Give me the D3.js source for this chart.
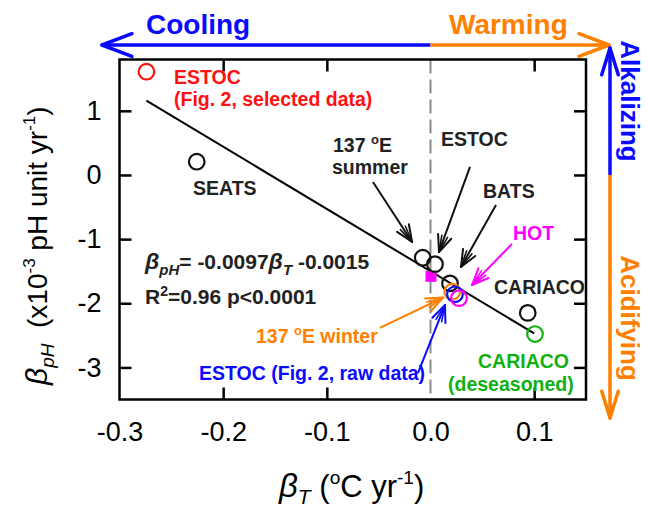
<!DOCTYPE html>
<html><head><meta charset="utf-8">
<script src="https://cdn.jsdelivr.net/npm/d3@7/dist/d3.min.js"></script>
<style>
body{margin:0;background:#fff}
svg{display:block}
text{font-family:"Liberation Sans",Arial,Helvetica,sans-serif}
</style>
</head><body>
<svg id="c" width="648" height="510"></svg>
<script>
// ---------- data ----------
const stations = ["ESTOC (Fig. 2, selected data)","SEATS","137°E summer","ESTOC","BATS","137°E winter","ESTOC (Fig. 2, raw data)","HOT","CARIACO","CARIACO (deseasoned)"];
const betaT  = [-0.274, -0.2255, -0.0075, 0.0043, 0.0188, 0.021, 0.0236, 0.0275, 0.0938, 0.1008];
const betaPH = [ 1.61,   0.207,  -1.29,  -1.39,  -1.69,  -1.82, -1.86,  -1.92,  -2.15,  -2.48];
const pointColors = ["#ff1010","#111111","#111111","#111111","#111111","#ff8000","#0a0aff","#ff00ff","#111111","#10b010"];
const squareT  = [0.0005];
const squarePH = [-1.58];
const regSlope = -9.7, regIntercept = -1.5;
const regExtent = [-0.274, 0.1];
const xTicks = [-0.3, -0.2, -0.1, 0.0, 0.1];
const xTickLabels = ["-0.3","-0.2","-0.1","0.0","0.1"];
const yTicks = [-3, -2, -1, 0, 1];
const yTickLabels = ["-3","-2","-1","0","1"];
const xDomain = [-0.3, 0.15];
const yDomain = [-3.5, 1.8];
// annotation arrows (data units)
const arrowFromT  = [-0.0555, 0.0381, 0.0632, 0.0786, -0.0487, -0.0121];
const arrowFromPH = [-0.109,  0.125, -0.468, -1.076, -2.385, -3.087];
const arrowToT    = [-0.0178, 0.0082, 0.0294, 0.040,  0.0121,  0.014];
const arrowToPH   = [-1.044, -1.20,  -1.434, -1.715, -1.91,  -2.026];
const arrowColors = ["#111111","#111111","#111111","#ff00ff","#ff8000","#0a0aff"];

// ---------- layout ----------
const BLUE = "#0a0aff", ORANGE = "#ff8000";
const svg = d3.select("#c");
const L = 119.5, R = 586, T = 59.5, B = 399.5;
const x = d3.scaleLinear().domain(xDomain).range([L, R]);
const y = d3.scaleLinear().domain(yDomain).range([B, T]);

function arrowHead(g, x1, y1, x2, y2, color, len, ang, w) {
  const a = Math.atan2(y2 - y1, x2 - x1);
  [ang, -ang].forEach(d => {
    g.append("line").attr("x1", x2).attr("y1", y2)
      .attr("x2", x2 - len * Math.cos(a + d)).attr("y2", y2 - len * Math.sin(a + d))
      .attr("stroke", color).attr("stroke-width", w).attr("stroke-linecap", "round");
  });
}

// dashed zero line
svg.append("line").attr("x1", x(0)).attr("x2", x(0)).attr("y1", T).attr("y2", B)
  .attr("stroke", "#8a8a8a").attr("stroke-width", 2).attr("stroke-dasharray", "14,6");

// axes
const tickFmt = (arr, labels) => d => labels[arr.indexOf(d)];
const gx = svg.append("g").attr("transform", `translate(0,${B})`)
  .call(d3.axisBottom(x).tickValues(xTicks).tickFormat(tickFmt(xTicks, xTickLabels)).tickSize(-12).tickSizeOuter(0).tickPadding(22));
const gy = svg.append("g").attr("transform", `translate(${L},0)`)
  .call(d3.axisLeft(y).tickValues(yTicks).tickFormat(tickFmt(yTicks, yTickLabels)).tickSize(-12).tickSizeOuter(0).tickPadding(18));
const gt = svg.append("g").attr("transform", `translate(0,${T})`)
  .call(d3.axisTop(x).tickValues(xTicks).tickFormat("").tickSize(-12).tickSizeOuter(0));
const gr = svg.append("g").attr("transform", `translate(${R},0)`)
  .call(d3.axisRight(y).tickValues(yTicks).tickFormat("").tickSize(-12).tickSizeOuter(0));
[gx, gy, gt, gr].forEach(g => {
  g.select(".domain").remove();
  g.selectAll(".tick line").attr("stroke", "#000").attr("stroke-width", 2.5);
  g.selectAll(".tick text").attr("fill", "#000").style("font-size", "27px").style("font-family", "'Liberation Sans',Arial,sans-serif");
});
[gx, gt].forEach(g => g.selectAll(".tick").filter(d => d === 0 || d === -0.3).select("line").remove());
svg.append("rect").attr("x", L).attr("y", T).attr("width", R - L).attr("height", B - T)
  .attr("fill", "none").attr("stroke", "#000").attr("stroke-width", 2.5);

// regression line
svg.append("line")
  .attr("x1", x(regExtent[0])).attr("y1", y(regSlope * regExtent[0] + regIntercept))
  .attr("x2", x(regExtent[1])).attr("y2", y(regSlope * regExtent[1] + regIntercept))
  .attr("stroke", "#000").attr("stroke-width", 2);

// square marker
svg.selectAll("rect.sq").data(squareT).enter().append("rect").attr("class", "sq")
  .attr("x", (d, i) => x(d) - 5.5).attr("y", (d, i) => y(squarePH[i]) - 5.5)
  .attr("width", 11).attr("height", 11).attr("fill", "#ff00ff");

// points
svg.selectAll("circle.pt").data(betaT).enter().append("circle").attr("class", "pt")
  .attr("cx", d => x(d)).attr("cy", (d, i) => y(betaPH[i])).attr("r", 7.8)
  .attr("fill", "none").attr("stroke", (d, i) => pointColors[i]).attr("stroke-width", 2.2);

// annotation arrows
const ga = svg.append("g");
arrowFromT.forEach((d, i) => {
  const x1 = x(d), y1 = y(arrowFromPH[i]), x2 = x(arrowToT[i]), y2 = y(arrowToPH[i]);
  ga.append("line").attr("x1", x1).attr("y1", y1).attr("x2", x2).attr("y2", y2)
    .attr("stroke", arrowColors[i]).attr("stroke-width", 2);
  arrowHead(ga, x1, y1, x2, y2, arrowColors[i], 18, 0.40, 2);
  arrowHead(ga, x1, y1, x2, y2, arrowColors[i], 17, 0.18, 1.6);
});

// labels
function lbl(txt, px, py, color, size, anchor) {
  return svg.append("text").attr("x", px).attr("y", py).attr("fill", color)
    .attr("font-weight", "bold").attr("text-anchor", anchor || "start").style("font-size", size + "px").text(txt);
}
const AS = 19.5;
lbl("ESTOC", 174, 84, "#ff1010", AS);
lbl("(Fig. 2, selected data)", 174, 106, "#ff1010", AS);
lbl("SEATS", 193, 195, "#222", AS);
const t137 = svg.append("text").attr("x", 333).attr("y", 152).attr("fill", "#222").attr("font-weight", "bold").style("font-size", AS + "px");
t137.append("tspan").text("137 ");
t137.append("tspan").attr("dy", -8).style("font-size", "13px").text("o");
t137.append("tspan").attr("dy", 8).text("E");
lbl("summer", 332, 174, "#222", AS);
lbl("ESTOC", 441, 146, "#222", AS);
lbl("BATS", 483, 198, "#222", AS);
lbl("HOT", 513, 240, "#ff00ff", AS);
lbl("CARIACO", 494, 294, "#222", AS);
lbl("CARIACO", 478, 368, "#10b010", AS);
lbl("(deseasoned)", 448, 391, "#10b010", AS);
const tw = svg.append("text").attr("x", 256).attr("y", 343).attr("fill", ORANGE).attr("font-weight", "bold").style("font-size", AS + "px");
tw.append("tspan").text("137 ");
tw.append("tspan").attr("dy", -8).style("font-size", "13px").text("o");
tw.append("tspan").attr("dy", 8).text("E winter");
lbl("ESTOC (Fig. 2, raw data)", 199, 380, BLUE, AS);

// equation
const ES = 21;
const e1 = svg.append("text").attr("x", 145).attr("y", 269).attr("fill", "#222").attr("font-weight", "bold").style("font-size", ES + "px");
e1.append("tspan").attr("font-style", "italic").style("font-size", "23px").text("β");
e1.append("tspan").attr("font-style", "italic").attr("dy", 6).style("font-size", "15px").text("pH");
e1.append("tspan").attr("dy", -6).text("= -0.0097");
e1.append("tspan").attr("font-style", "italic").style("font-size", "23px").text("β");
e1.append("tspan").attr("font-style", "italic").attr("dy", 6).style("font-size", "15px").text("T");
e1.append("tspan").attr("dy", -6).text(" -0.0015");
const e2 = svg.append("text").attr("x", 145).attr("y", 304).attr("fill", "#222").attr("font-weight", "bold").style("font-size", ES + "px");
e2.append("tspan").text("R");
e2.append("tspan").attr("dy", -8).style("font-size", "14px").text("2");
e2.append("tspan").attr("dy", 8).text("=0.96 p<0.0001");

// axis titles
const TS = 28;
const xt = svg.append("text").attr("x", 279).attr("y", 497).attr("fill", "#000").style("font-size", "31px");
xt.append("tspan").attr("font-style", "italic").style("font-size", "33px").text("β");
xt.append("tspan").attr("font-style", "italic").attr("dy", 7).style("font-size", "21px").text("T");
xt.append("tspan").attr("dy", -7).text("\u00a0(");
xt.append("tspan").attr("dy", -13).style("font-size", "19px").text("o");
xt.append("tspan").attr("dy", 13).text("C yr");
xt.append("tspan").attr("dy", -13).style("font-size", "19px").text("-1");
xt.append("tspan").attr("dy", 13).text(")");

const yt = svg.append("text").attr("transform", "translate(47,385) rotate(-90)").attr("fill", "#000").style("font-size", TS + "px");
yt.append("tspan").attr("font-style", "italic").style("font-size", "30px").text("β");
yt.append("tspan").attr("font-style", "italic").attr("dy", 7).style("font-size", "19px").text("pH");
yt.append("tspan").attr("dy", -7).text("\u00a0\u00a0(x10");
yt.append("tspan").attr("dy", -12).style("font-size", "17px").text("-3");
yt.append("tspan").attr("dy", 12).text(" pH unit yr");
yt.append("tspan").attr("dy", -12).style("font-size", "17px").text("-1");
yt.append("tspan").attr("dy", 12).text(")");

// direction arrows (top: temperature, right: pH)
const topY = 45, leftTip = 102, rightTip = 609;
svg.append("line").attr("x1", leftTip).attr("x2", x(0)).attr("y1", topY).attr("y2", topY).attr("stroke", BLUE).attr("stroke-width", 3.5);
svg.append("line").attr("x1", x(0)).attr("x2", rightTip).attr("y1", topY).attr("y2", topY).attr("stroke", ORANGE).attr("stroke-width", 3.5);
arrowHead(svg, x(0), topY, leftTip, topY, BLUE, 32, 0.36, 3.5);
arrowHead(svg, x(0), topY, rightTip, topY, ORANGE, 32, 0.36, 3.5);
lbl("Cooling", 146, 34, BLUE, 28);
lbl("Warming", 449, 34, ORANGE, 28);

const vx = 610, topTip = 48, botTip = 418;
svg.append("line").attr("x1", vx).attr("x2", vx).attr("y1", topTip).attr("y2", y(0)).attr("stroke", BLUE).attr("stroke-width", 3.5);
svg.append("line").attr("x1", vx).attr("x2", vx).attr("y1", y(0)).attr("y2", botTip).attr("stroke", ORANGE).attr("stroke-width", 3.5);
arrowHead(svg, vx, y(0), vx, topTip, BLUE, 28, 0.3, 3.5);
arrowHead(svg, vx, y(0), vx, botTip, ORANGE, 28, 0.3, 3.5);
svg.append("text").attr("transform", "translate(621,101) rotate(90)").attr("text-anchor", "middle")
  .attr("fill", BLUE).attr("font-weight", "bold").style("font-size", "26px").text("Alkalizing");
svg.append("text").attr("transform", "translate(621,318) rotate(90)").attr("text-anchor", "middle")
  .attr("fill", ORANGE).attr("font-weight", "bold").style("font-size", "26px").text("Acidifying");
</script>
</body></html>
